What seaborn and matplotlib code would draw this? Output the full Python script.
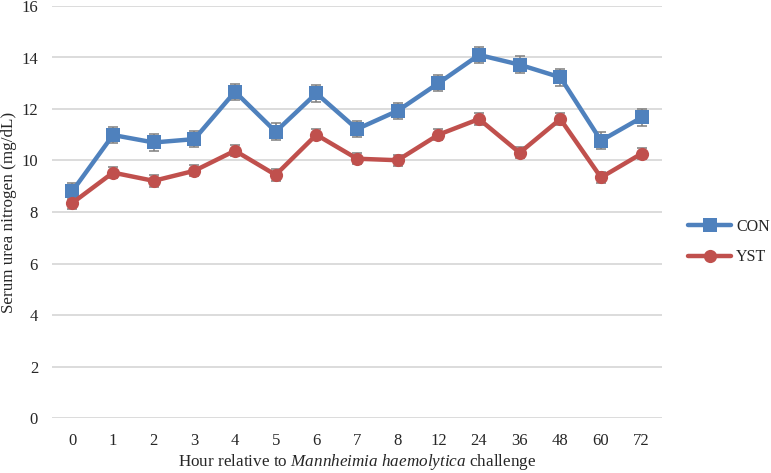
import pandas as pd
import matplotlib
matplotlib.use("Agg")
import matplotlib.pyplot as plt
import seaborn as sns

hours = ["0", "1", "2", "3", "4", "5", "6", "7", "8", "12", "24", "36", "48", "60", "72"]
con_mean = [8.81, 10.99, 10.70, 10.83, 12.67, 11.12, 12.61, 11.22, 11.93, 13.00, 14.10, 13.72, 13.23, 10.77, 11.67]
con_sem = [0.32, 0.32, 0.32, 0.32, 0.32, 0.32, 0.32, 0.32, 0.32, 0.32, 0.32, 0.32, 0.32, 0.32, 0.32]
yst_mean = [8.35, 9.53, 9.21, 9.60, 10.38, 9.44, 11.00, 10.07, 10.01, 11.00, 11.61, 10.30, 11.61, 9.34, 10.27]
yst_sem = [0.22, 0.22, 0.22, 0.22, 0.22, 0.22, 0.22, 0.22, 0.22, 0.22, 0.22, 0.22, 0.22, 0.22, 0.22]
groups = ["CON", "YST"]
colors = {"CON": "#4F81BD", "YST": "#C0504D"}
markers = {"CON": "s", "YST": "o"}

sns.set_style("white")
plt.rcParams["font.family"] = ["Liberation Serif", "DejaVu Serif"]
plt.rcParams["mathtext.fontset"] = "custom"
plt.rcParams["mathtext.rm"] = "Liberation Serif"
plt.rcParams["mathtext.it"] = "Liberation Serif:italic"

pos = list(range(len(hours)))
df = pd.DataFrame({
    "pos": pos * 2,
    "value": con_mean + yst_mean,
    "sem": con_sem + yst_sem,
    "group": ["CON"] * len(hours) + ["YST"] * len(hours),
})

fig = plt.figure(figsize=(7.71, 4.73), dpi=100)
ax = fig.add_axes([52 / 771, 1 - 418 / 473, 610 / 771, 412 / 473])

# error bars first so the lines sit on top
for g in groups:
    sub = df[df["group"] == g]
    ax.errorbar(sub["pos"], sub["value"], yerr=sub["sem"], fmt="none",
                ecolor="#7F7F7F", elinewidth=1.1, capsize=3.5, capthick=1.1, zorder=2)

sns.lineplot(data=df, x="pos", y="value", hue="group", style="group",
             palette=colors, markers=markers, dashes=False, linewidth=3.2,
             markersize=9.5, markeredgewidth=0, ax=ax, zorder=3)

ax.set_xlim(-0.5, len(hours) - 0.5)
ax.set_ylim(0, 16)
ax.set_yticks(range(0, 17, 2))
ax.set_xticks(pos)
ax.set_xticklabels(hours)
ax.tick_params(axis="both", labelsize=12, length=0, colors="#262626")
ax.tick_params(axis="x", pad=11)
ax.tick_params(axis="y", pad=10)
ax.yaxis.grid(True, color="#D9D9D9", linewidth=1.3)
ax.xaxis.grid(False)
for s in ax.spines.values():
    s.set_visible(False)

ax.set_ylabel("Serum urea nitrogen (mg/dL)", fontsize=12.3, labelpad=3)
ax.set_xlabel("Hour relative to $\\it{Mannheimia\\ haemolytica}$ challenge",
              fontsize=12.3, labelpad=2)

handles, labels = ax.get_legend_handles_labels()
ax.legend(handles, labels, loc="center left", bbox_to_anchor=(688 / 771, 1 - 242 / 473),
          bbox_transform=fig.transFigure, frameon=False, fontsize=11.5,
          handlelength=2.7, handletextpad=0.3, labelspacing=0.9, borderpad=0,
          borderaxespad=0)

fig.savefig("out.png", dpi=100)
